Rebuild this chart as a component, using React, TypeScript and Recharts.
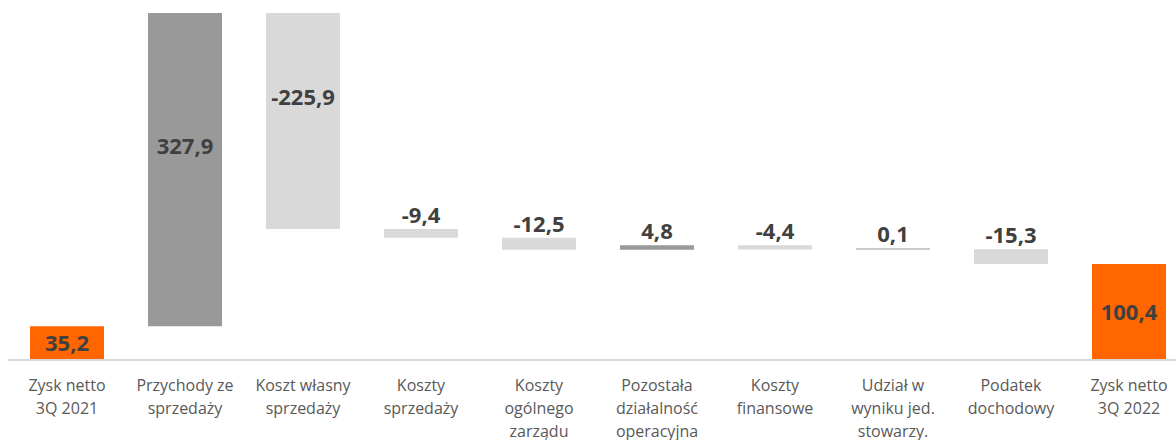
import { BarChart, Bar, XAxis, YAxis, Cell, LabelList } from 'recharts'

const categories = [
  'Zysk netto\n3Q 2021',
  'Przychody ze\nsprzedaży',
  'Koszt własny\nsprzedaży',
  'Koszty\nsprzedaży',
  'Koszty\nogólnego\nzarządu',
  'Pozostała\ndziałalność\noperacyjna',
  'Koszty\nfinansowe',
  'Udział w\nwyniku jed.\nstowarzy.',
  'Podatek\ndochodowy',
  'Zysk netto\n3Q 2022',
]

const values = [35.2, 327.9, -225.9, -9.4, -12.5, 4.8, -4.4, 0.1, -15.3, 100.4]
const isTotal = [true, false, false, false, false, false, false, false, false, true]

const ORANGE = '#ff6600'
const UP = '#999999'
const DOWN = '#d9d9d9'

// waterfall: invisible base + visible step
let running = 0
const data = categories.map((name, i) => {
  const v = values[i]
  let base = 0
  if (isTotal[i]) {
    running = v
  } else {
    base = v >= 0 ? running : running + v
    running += v
  }
  return { name, base, step: Math.abs(v), value: v, total: isTotal[i] }
})

const fmt = (v: number) => v.toFixed(1).replace('.', ',')

const CategoryTick = (props: any) => {
  const { x, y, payload } = props
  const lines = String(payload.value).split('\n')
  return (
    <text x={x} y={y} textAnchor="middle" fill="#595959" fontSize={16} fontFamily="'Open Sans', sans-serif">
      {lines.map((l, i) => (
        <tspan key={i} x={x} y={y + 31 + i * 23}>{l}</tspan>
      ))}
    </text>
  )
}

const ValueLabel = (props: any) => {
  const { x, y, width, height, index } = props
  const h = Math.abs(height)
  const cx = x + width / 2
  // small steps get the label above, tall bars a bit above the middle
  let ty = y - 6
  if (h > 150) ty = y + h / 2 - 16
  else if (h > 30) ty = y + h / 2 + 8
  return (
    <text x={cx} y={ty} textAnchor="middle" fill="#404040" fontSize={22} fontWeight={700} fontFamily="'Open Sans', sans-serif">
      {fmt(values[index])}
    </text>
  )
}

export default function App() {
  return (
    <div style={{ position: 'fixed', left: 0, top: 0, width: 1176, height: 440, overflow: 'hidden', background: '#fff' }}>
      <BarChart
        width={1188}
        height={440}
        data={data}
        margin={{ top: 13, right: 0, bottom: 0, left: 8 }}
        barSize={74}
      >
        <XAxis
          dataKey="name"
          interval={0}
          height={80}
          tickLine={false}
          tickSize={0}
          tickMargin={0}
          axisLine={{ stroke: '#d9d9d9', strokeWidth: 2 }}
          tick={<CategoryTick />}
        />
        <YAxis hide domain={[0, 363.1]} />
        <Bar dataKey="base" stackId="w" fill="transparent" isAnimationActive={false} />
        <Bar dataKey="step" stackId="w" minPointSize={1} isAnimationActive={false}>
          {data.map((d, i) => (
            <Cell key={i} fill={d.total ? ORANGE : d.value >= 0 ? UP : DOWN} />
          ))}
          <LabelList dataKey="step" content={<ValueLabel />} />
        </Bar>
      </BarChart>
    </div>
  )
}
